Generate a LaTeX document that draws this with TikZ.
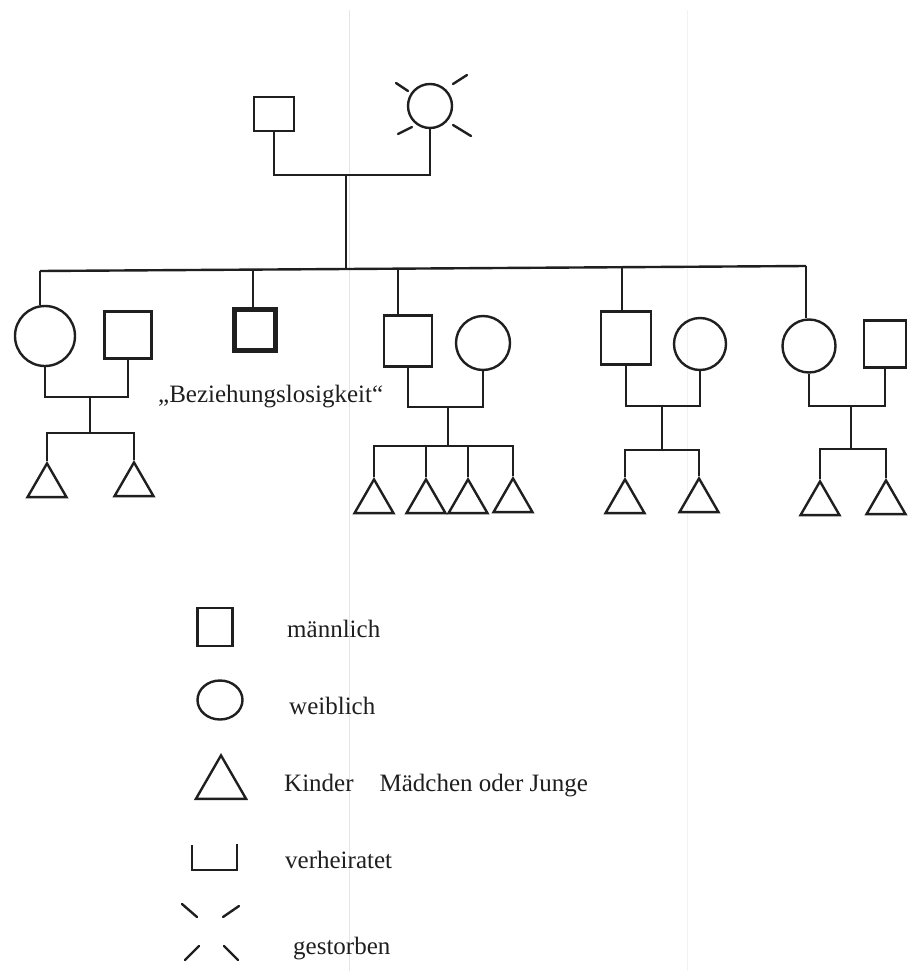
\documentclass[tikz,border=0pt]{standalone}
\usepackage{fontspec}
\setmainfont{Liberation Serif}
\usetikzlibrary{shapes.geometric}
\definecolor{ink}{gray}{0.12}
\definecolor{txt}{gray}{0.12}
\definecolor{scanline}{gray}{0.9}
\begin{document}
\begin{tikzpicture}[x=1pt, y=-1pt, line width=2.4pt,
  male/.style={draw=ink, rectangle, inner sep=0pt, line width=2.4pt},
  female/.style={draw=ink, circle, inner sep=0pt, line width=2.4pt},
  kid/.style={draw=ink, regular polygon, regular polygon sides=3, inner sep=0pt,
              minimum size=45pt, anchor=north, line width=2.4pt},
  lbl/.style={text=txt, font=\fontsize{25}{30}\selectfont, inner sep=0pt, anchor=base west},
  link/.style={draw=ink, line width=2.4pt},
  deathmark/.style={draw=ink, line width=2.4pt, line cap=round}]

\useasboundingbox (0,0) rectangle (912,971);
\fill[white] (0,0) rectangle (912,971);

% faint fold lines of the paper
\draw[scanline, line width=1pt] (349,10) -- (349,971);
\draw[scanline!50!white, line width=1pt] (687,10) -- (687,971);

% ---------- grandparents ----------
\node[male, minimum width=40pt, minimum height=34pt] (p0m) at (274,114) {};
\node[female, minimum size=44pt] (p0f) at (430,106) {};
% deceased marks around the grandmother
\draw[deathmark] (396,83) -- (408,91);
\draw[deathmark] (453,84) -- (467,75);
\draw[deathmark] (398,134) -- (412,127);
\draw[deathmark] (453,125) -- (471,136);

\coordinate (m0) at (346,175);
\draw[link] (p0m.south) |- (m0) -| (p0f.south);

% ---------- children generation ----------
\node[female, minimum size=60pt] (c1) at (45,336) {};
\node[male, minimum width=47pt, minimum height=47pt] (c1p) at (128,335) {};
\node[male, line width=4.8pt, minimum width=41pt, minimum height=41pt] (c2) at (255,330) {};
\node[male, minimum width=48pt, minimum height=51pt] (c3) at (408,341) {};
\node[female, minimum size=54pt] (c3p) at (483,343) {};
\node[male, minimum width=50pt, minimum height=53pt] (c4) at (626,338) {};
\node[female, minimum size=52pt] (c4p) at (700,344) {};
\node[female, minimum size=53pt] (c5) at (809,346) {};
\node[male, minimum width=42pt, minimum height=47pt] (c5p) at (885,344) {};

\node[lbl] (lonely) at (157,402) {„Beziehungslosigkeit“};

% sibling bar
\coordinate (b1) at (40,271);
\coordinate (b0) at (346,269);
\coordinate (b2) at (253,269.6);
\coordinate (b3) at (398,268.7);
\coordinate (b4) at (622,267.2);
\coordinate (b5) at (806,266);
\draw[link] (m0) -- (b0);
\draw[link] (b1) -- (b5);
\draw[link] (b1) -- (b1 |- c1.north);
\draw[link] (b2) -- (b2 |- c2.north);
\draw[link] (b3) -- (b3 |- c3.north);
\draw[link] (b4) -- (b4 |- c4.north);
\draw[link] (b5) -- (b5 |- c5.north);

% ---------- grandchildren ----------
\node[kid] (g1a) at (47,461) {};
\node[kid] (g1b) at (134,460) {};
\node[kid] (g3a) at (374,477) {};
\node[kid] (g3b) at (426,477) {};
\node[kid] (g3c) at (468,477) {};
\node[kid] (g3d) at (513,476) {};
\node[kid] (g4a) at (625,477) {};
\node[kid] (g4b) at (699,476) {};
\node[kid] (g5a) at (820,479) {};
\node[kid] (g5b) at (886,478) {};

% family 1
\coordinate (m1) at (90,397);
\coordinate (k1) at (90,433);
\draw[link] (c1.south) |- (m1) -| (c1p.south);
\draw[link] (m1) -- (k1);
\draw[link] (g1a.north) |- (k1) -| (g1b.north);

% family 3
\coordinate (m3) at (448,407);
\coordinate (k3) at (448,446);
\draw[link] (c3.south) |- (m3) -| (c3p.south);
\draw[link] (m3) -- (k3);
\draw[link] (g3a.north) |- (k3) -| (g3d.north);
\draw[link] (g3b.north) -- (g3b.north |- k3);
\draw[link] (g3c.north) -- (g3c.north |- k3);

% family 4
\coordinate (m4) at (662,406);
\coordinate (k4) at (662,450);
\draw[link] (c4.south) |- (m4) -| (c4p.south);
\draw[link] (m4) -- (k4);
\draw[link] (g4a.north) |- (k4) -| (g4b.north);

% family 5
\coordinate (m5) at (851,406);
\coordinate (k5) at (851,449);
\draw[link] (c5.south) |- (m5) -| (c5p.south);
\draw[link] (m5) -- (k5);
\draw[link] (g5a.north) |- (k5) -| (g5b.north);

% ---------- legend ----------
\node[male, minimum width=35pt, minimum height=38pt] (lm) at (215,627) {};
\node[lbl] (tm) at (286,637) {männlich};

\node[draw=ink, ellipse, inner sep=0pt, line width=2.4pt, minimum width=45pt, minimum height=39pt] (lf) at (220,700) {};
\node[lbl] (tf) at (288,714) {weiblich};

\node[kid, minimum size=58pt] (lk) at (221,753) {};
\node[lbl] (tk) at (283,791) {Kinder\hspace{26pt}Mädchen oder Junge};

\draw[link] (192,845) -- (192,870) -- (237,870) -- (237,844);
\node[lbl] (tv) at (284,868) {verheiratet};

\draw[deathmark] (182,904) -- (197,917);
\draw[deathmark] (223,917) -- (239,906);
\draw[deathmark] (185,960) -- (199,946);
\draw[deathmark] (224,946) -- (238,960);
\node[lbl] (tg) at (292,954) {gestorben};

\end{tikzpicture}
\end{document}
